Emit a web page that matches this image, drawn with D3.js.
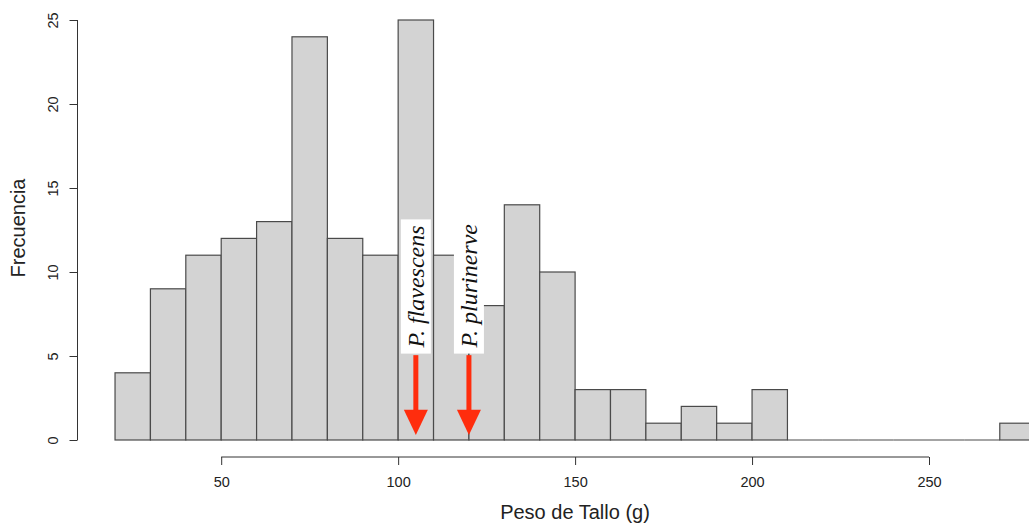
<!DOCTYPE html>
<html>
<head>
<meta charset="utf-8">
<script src="https://cdn.jsdelivr.net/npm/d3@7"></script>
<style>
  body { margin: 0; background: #fff; }
  svg { display: block; }
</style>
</head>
<body>
<div id="chart"></div>
<script>
// histogram bins (lower edge, width 10) and counts
const binStart = [20, 30, 40, 50, 60, 70, 80, 90, 100, 110, 120, 130, 140,
                  150, 160, 170, 180, 190, 200, 210, 220, 230, 240, 250, 260, 270];
const counts   = [4, 9, 11, 12, 13, 24, 12, 11, 25, 11, 8, 14, 10,
                  3, 3, 1, 2, 1, 3, 0, 0, 0, 0, 0, 0, 1];
const xTicks = [50, 100, 150, 200, 250];
const yTicks = [0, 5, 10, 15, 20, 25];
// species markers
const species = ["P. flavescens", "P. plurinerve"];
const speciesWeight = [105, 120];

const binWidth = 10;
const width = 1029, height = 524;

const svg = d3.select("#chart")
  .append("svg")
  .attr("width", width)
  .attr("height", height);

// scales
const x = d3.scaleLinear().domain([50, 250]).range([221.2, 929]);
const y = d3.scaleLinear().domain([0, 25]).range([440, 20]);

const bins = binStart.map((b, i) => ({x0: b, x1: b + binWidth, n: counts[i]}));

// bars
svg.append("g")
  .selectAll("rect")
  .data(bins.filter(d => d.n > 0))
  .join("rect")
    .attr("x", d => x(d.x0))
    .attr("y", d => y(d.n))
    .attr("width", d => x(d.x1) - x(d.x0))
    .attr("height", d => y(0) - y(d.n))
    .style("fill", "#d3d3d3")
    .style("stroke", "#4a4a4a")
    .style("stroke-width", 1.2);

// empty bins are drawn as flat lines on the baseline, like R does
svg.append("g")
  .selectAll("line")
  .data(bins.filter(d => d.n === 0))
  .join("line")
    .attr("x1", d => x(d.x0))
    .attr("x2", d => x(d.x1))
    .attr("y1", y(0))
    .attr("y2", y(0))
    .style("stroke", "#4a4a4a")
    .style("stroke-width", 1.2);

// X axis
const xAxisY = 457;
const gx = svg.append("g")
  .attr("transform", `translate(0, ${xAxisY})`)
  .call(d3.axisBottom(x).tickValues(xTicks).tickSize(8).tickPadding(12).tickFormat(d3.format("d")));
gx.select(".domain").remove();
gx.append("line")
  .attr("x1", x(xTicks[0])).attr("x2", x(xTicks[xTicks.length - 1]))
  .attr("stroke", "#333");
gx.selectAll(".tick line").attr("stroke", "#333");
gx.selectAll(".tick text")
  .style("font-family", "Liberation Sans, Arial, sans-serif")
  .style("font-size", "14.5px")
  .style("fill", "#222");

// Y axis
const yAxisX = 77.5;
const gy = svg.append("g")
  .attr("transform", `translate(${yAxisX}, 0)`)
  .call(d3.axisLeft(y).tickValues(yTicks).tickSize(8));
gy.select(".domain").remove();
gy.append("line")
  .attr("y1", y(yTicks[0])).attr("y2", y(yTicks[yTicks.length - 1]))
  .attr("stroke", "#333");
gy.selectAll(".tick line").attr("stroke", "#333");
gy.selectAll(".tick text")
  .attr("transform", "rotate(-90)")
  .attr("x", 0)
  .attr("y", -19.5)
  .attr("dy", null)
  .attr("text-anchor", "middle")
  .style("font-family", "Liberation Sans, Arial, sans-serif")
  .style("font-size", "14.5px")
  .style("fill", "#222");

// axis labels
svg.append("text")
  .attr("x", 575)
  .attr("y", 519)
  .attr("text-anchor", "middle")
  .style("font-family", "Liberation Sans, Arial, sans-serif")
  .style("font-size", "20px")
  .style("fill", "#222")
  .text("Peso de Tallo (g)");

svg.append("text")
  .attr("transform", "translate(25, 228) rotate(-90)")
  .attr("text-anchor", "middle")
  .style("font-family", "Liberation Sans, Arial, sans-serif")
  .style("font-size", "20px")
  .style("fill", "#222")
  .text("Frecuencia");

// species arrows
const arrowColor = "#ff2d0d";
species.forEach((name, i) => {
  const ax = x(speciesWeight[i]);

  svg.append("line")
    .attr("x1", ax).attr("x2", ax)
    .attr("y1", y(5.05)).attr("y2", y(1.7))
    .style("stroke", arrowColor)
    .style("stroke-width", 5);

  svg.append("path")
    .attr("d", `M${ax - 12},${y(1.8)} L${ax + 12},${y(1.8)} L${ax},${y(0.3)} Z`)
    .style("fill", arrowColor);

  // rotated italic label with white box behind
  const g = svg.append("g")
    .attr("transform", `translate(${ax}, ${y(5.5)}) rotate(-90)`);
  const box = g.append("rect").style("fill", "#fff");
  const t = g.append("text")
    .attr("x", 0)
    .style("font-family", "Liberation Serif, Times New Roman, serif")
    .style("font-style", "italic")
    .style("font-size", "24px")
    .style("fill", "#111")
    .text(name);
  let bb = t.node().getBBox();
  t.attr("y", -(bb.y + bb.height / 2));
  bb = t.node().getBBox();
  box.attr("x", bb.x - 5)
    .attr("y", bb.y - 2)
    .attr("width", bb.width + 11)
    .attr("height", bb.height + 4);
});
</script>
</body>
</html>
